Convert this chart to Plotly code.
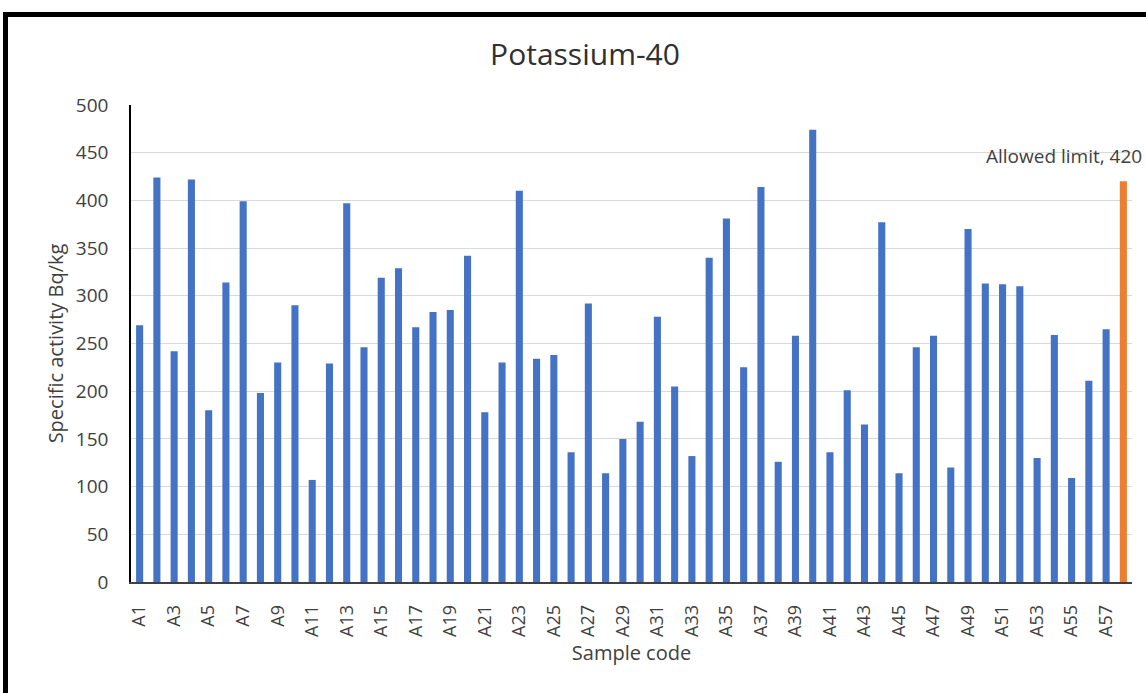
import plotly.graph_objects as go

samples = [f"A{i}" for i in range(1, 58)]
activity = [269, 424, 242, 422, 180, 314, 399, 198, 230, 290,
            107, 229, 397, 246, 319, 329, 267, 283, 285, 342,
            178, 230, 410, 234, 238, 136, 292, 114, 150, 168,
            278, 205, 132, 340, 381, 225, 414, 126, 258, 474,
            136, 201, 165, 377, 114, 246, 258, 120, 370, 313,
            312, 310, 130, 259, 109, 211, 265]
limit_label = "Allowed limit"
limit_value = 420
tick_labels = samples[::2]

x_vals = samples + [limit_label]
y_vals = activity + [limit_value]
colors = ["#4472C4"] * len(samples) + ["#ED7D31"]

W, H = 1146, 693
L, R, T, B = 131, 14, 105, 111
pw, ph = W - L - R, H - T - B
FONT = "Open Sans, sans-serif"

def px_x(p):
    return (p - L) / pw

def px_y(p):
    return (H - B - p) / ph

fig = go.Figure()
fig.add_trace(go.Bar(x=x_vals, y=y_vals, marker=dict(color=colors, line=dict(width=0)),
                     showlegend=False))

fig.update_layout(
    width=W, height=H,
    margin=dict(l=L, r=R, t=T, b=B, autoexpand=False),
    paper_bgcolor="white", plot_bgcolor="white",
    bargap=0.59,
    font=dict(family=FONT, color="#404040"),
    title=dict(text="Potassium-40", x=585 / W, xref="container", xanchor="center",
               y=1 - 54 / H, yref="container", yanchor="middle",
               font=dict(size=30, color="#303030", family=FONT)),
    xaxis=dict(
        type="category",
        tickmode="array", tickvals=tick_labels, ticktext=tick_labels,
        tickangle=-90, tickfont=dict(size=18, color="#404040", family=FONT),
        ticklabelstandoff=14,
        showline=True, linecolor="#404040", linewidth=1.5,
        ticks="", showgrid=False,
        title=dict(text="Sample code", font=dict(size=20, color="#404040"), standoff=10),
    ),
    yaxis=dict(
        range=[0, 500], tickvals=list(range(0, 501, 50)),
        tickfont=dict(size=19, color="#404040", family=FONT),
        ticklabelstandoff=17,
        showgrid=True, gridcolor="#D9D9D9", gridwidth=1,
        showline=True, linecolor="#000000", linewidth=1.5,
        zeroline=False, ticks="",
        title=dict(text="Specific activity Bq/kg", font=dict(size=20, color="#404040"), standoff=7),
    ),
)

fig.add_annotation(text="Allowed limit, 420", xref="paper", yref="paper",
                   x=px_x(984), y=px_y(156), xanchor="left", yanchor="middle",
                   showarrow=False, font=dict(size=19, color="#404040", family=FONT))

# outer black frame (cropped on the right and bottom)
fig.add_shape(type="rect", xref="paper", yref="paper",
              x0=px_x(5.5), y0=px_y(14.5), x1=px_x(1160), y1=px_y(710),
              line=dict(color="black", width=5), fillcolor="rgba(0,0,0,0)", layer="above")

fig.write_html("out.html")
